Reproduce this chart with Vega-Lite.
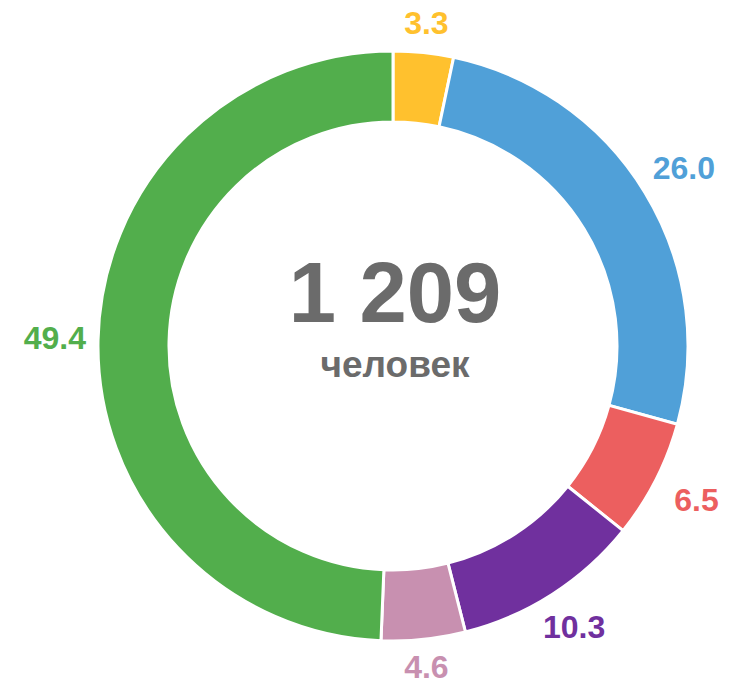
{
  "$schema": "https://vega.github.io/schema/vega-lite/v6.json",
  "width": 690,
  "height": 674,
  "padding": {"left": 48, "top": 9, "right": 0, "bottom": 0},
  "autosize": {"type": "none"},
  "background": "white",
  "config": {"view": {"stroke": null}},
  "datasets": {
    "segments": [
      {"group": "A", "value": 3.3, "order": 1},
      {"group": "B", "value": 26.0, "order": 2},
      {"group": "C", "value": 6.5, "order": 3},
      {"group": "D", "value": 10.3, "order": 4},
      {"group": "E", "value": 4.6, "order": 5},
      {"group": "F", "value": 49.4, "order": 6}
    ],
    "center": [
      {"line": "big", "text": "1 209"},
      {"line": "small", "text": "человек"}
    ]
  },
  "layer": [
    {
      "data": {"name": "segments"},
      "mark": {"type": "arc", "radius": 295, "radius2": 224, "stroke": "white", "strokeWidth": 3},
      "encoding": {
        "theta": {"field": "value", "type": "quantitative", "stack": true},
        "order": {"field": "order", "type": "quantitative"},
        "color": {
          "field": "group", "type": "nominal", "legend": null,
          "scale": {"domain": ["A", "B", "C", "D", "E", "F"], "range": ["#FFC12E", "#50A0D8", "#EC5F5F", "#70309E", "#C890B0", "#52AE4C"]}
        }
      }
    },
    {
      "data": {"name": "segments"},
      "mark": {"type": "text", "radius": {"expr": "306 + 14*abs(cos(PI*(datum.value_start+datum.value_end)/100.1)) + 32*abs(sin(PI*(datum.value_start+datum.value_end)/100.1))"}, "font": "Liberation Sans", "fontWeight": "bold", "fontSize": 32, "align": "center", "baseline": "middle"},
      "encoding": {
        "theta": {"field": "value", "type": "quantitative", "stack": true},
        "order": {"field": "order", "type": "quantitative"},
        "text": {"field": "value", "type": "quantitative", "format": ".1f"},
        "color": {
          "field": "group", "type": "nominal", "legend": null,
          "scale": {"domain": ["A", "B", "C", "D", "E", "F"], "range": ["#FFC12E", "#50A0D8", "#EC5F5F", "#70309E", "#C890B0", "#52AE4C"]}
        }
      }
    },
    {
      "data": {"name": "center"},
      "transform": [{"filter": "datum.line === 'big'"}],
      "mark": {"type": "text", "font": "Liberation Sans", "fontWeight": "bold", "fontSize": 85, "align": "center", "baseline": "alphabetic", "dy": -24, "dx": 2, "color": "#6B6B6B"},
      "encoding": {"text": {"field": "text", "type": "nominal"}}
    },
    {
      "data": {"name": "center"},
      "transform": [{"filter": "datum.line === 'small'"}],
      "mark": {"type": "text", "font": "Liberation Sans", "fontWeight": "bold", "fontSize": 37, "align": "center", "baseline": "alphabetic", "dy": 31, "dx": 2, "color": "#6B6B6B"},
      "encoding": {"text": {"field": "text", "type": "nominal"}}
    }
  ]
}
